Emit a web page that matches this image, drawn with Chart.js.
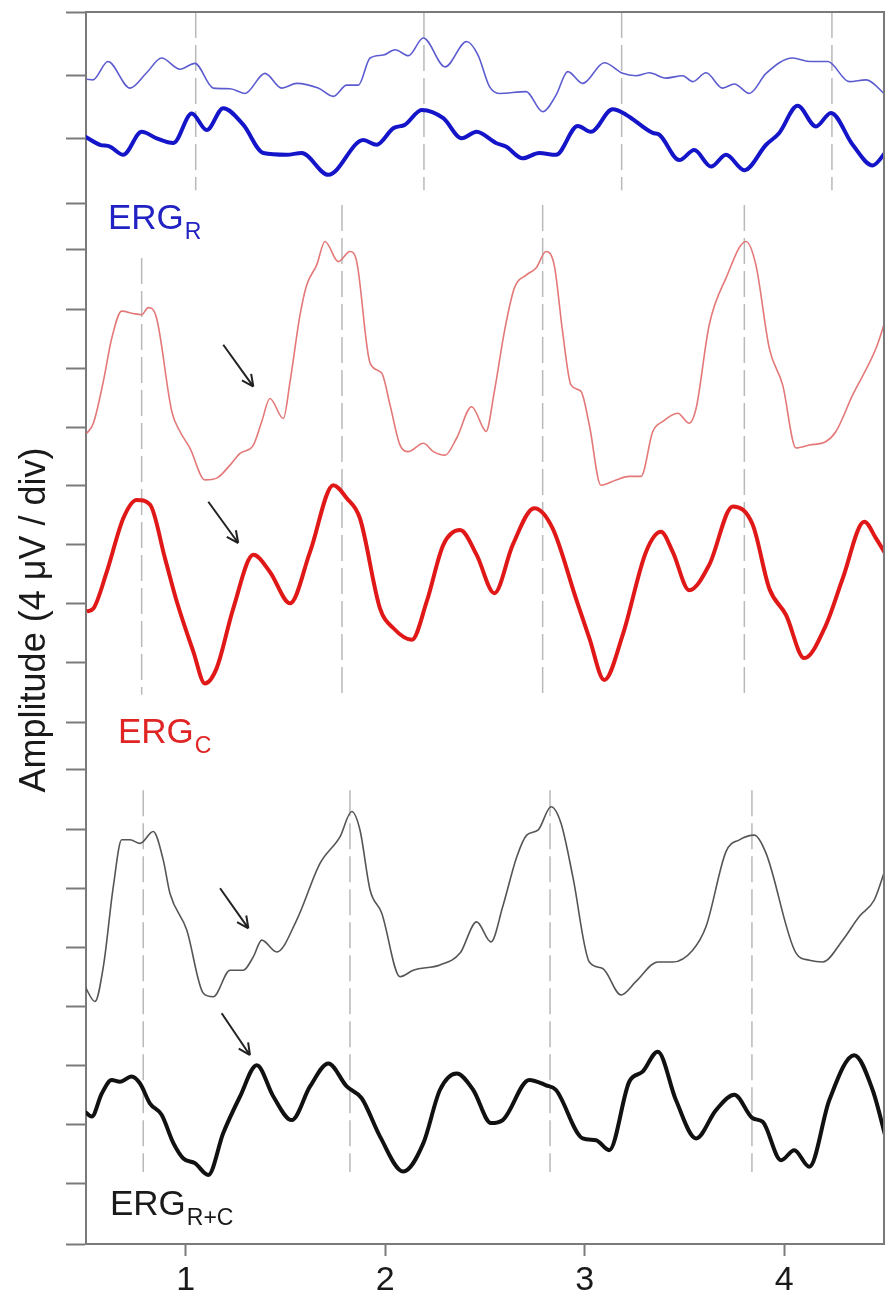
<!DOCTYPE html>
<html>
<head>
<meta charset="utf-8">
<title>ERG traces</title>
<script src="https://cdn.jsdelivr.net/npm/chart.js@4.4.1/dist/chart.umd.min.js"></script>
<style>
  html, body { margin: 0; padding: 0; background: #fff; }
</style>
</head>
<body>
<canvas id="erg" width="886" height="1301"></canvas>
<script>
/* ---------------------------------------------------------------
   data: time (x) and amplitude in divisions (y)
   --------------------------------------------------------------- */
const xTicks = [1, 2, 3, 4];
const yTicks = [0, 1.02, 2.02, 3.03, 4.03, 5.02, 6.02, 7.03, 8.05, 8.83, 9.85, 10.86,
  11.85, 12.85, 13.83, 14.83, 15.83, 16.86, 17.64, 18.73, 19.80, 20.88];

// ERG_R, thin trace
const rThinX = [0.504, 0.535, 0.610, 0.721, 0.804, 0.879, 0.971, 1.046, 1.138, 1.222, 1.297, 1.397,
  1.481, 1.556, 1.664, 1.740, 1.807, 1.865, 1.924, 1.990, 2.049, 2.116, 2.191, 2.300, 2.408, 2.465,
  2.522, 2.572, 2.706, 2.789, 2.856, 2.915, 2.990, 3.098, 3.190, 3.257, 3.324, 3.407, 3.491, 3.541,
  3.608, 3.691, 3.750, 3.825, 3.909, 4.042, 4.126, 4.218, 4.326, 4.410, 4.510];
const rThinY = [19.74, 19.73, 20.04, 19.59, 19.85, 20.10, 19.91, 20.01, 19.59, 19.58, 19.50, 19.84,
  19.59, 19.67, 19.59, 19.45, 19.64, 19.64, 20.10, 20.15, 20.24, 20.14, 20.44, 19.95, 20.38, 20.15,
  19.62, 19.50, 19.53, 19.19, 19.47, 19.87, 19.67, 20.02, 19.84, 19.80, 19.85, 19.76, 19.80, 19.70,
  19.85, 19.59, 19.66, 19.50, 19.84, 20.10, 20.04, 20.04, 19.70, 19.73, 19.47];

// ERG_R, thick trace
const rThickX = [0.495, 0.570, 0.620, 0.687, 0.779, 0.854, 0.938, 1.030, 1.105, 1.188, 1.288, 1.389,
  1.506, 1.581, 1.715, 1.890, 1.957, 2.040, 2.099, 2.183, 2.291, 2.383, 2.458, 2.555, 2.605, 2.689,
  2.772, 2.856, 2.965, 3.031, 3.140, 3.207, 3.341, 3.374, 3.474, 3.549, 3.633, 3.708, 3.800, 3.909,
  3.975, 4.067, 4.159, 4.234, 4.343, 4.443, 4.510];
const rThickY = [18.77, 18.63, 18.60, 18.46, 18.85, 18.74, 18.66, 19.16, 18.88, 19.25, 18.97, 18.49,
  18.46, 18.49, 18.12, 18.71, 18.63, 18.91, 18.97, 19.22, 19.08, 18.74, 18.85, 18.66, 18.60, 18.40,
  18.49, 18.46, 18.95, 18.85, 19.23, 19.14, 18.83, 18.80, 18.37, 18.54, 18.26, 18.46, 18.20, 18.63,
  18.83, 19.29, 18.94, 19.17, 18.63, 18.28, 18.51];

// ERG_C, thin trace
const cThinX = [0.504, 0.537, 0.587, 0.629, 0.679, 0.737, 0.779, 0.812, 0.854, 0.930, 0.971, 1.021,
  1.096, 1.155, 1.222, 1.272, 1.339, 1.381, 1.422, 1.489, 1.523, 1.573, 1.606, 1.656, 1.698, 1.765,
  1.823, 1.857, 1.924, 1.982, 2.024, 2.074, 2.116, 2.191, 2.241, 2.300, 2.358, 2.433, 2.491, 2.505,
  2.547, 2.597, 2.647, 2.706, 2.756, 2.806, 2.847, 2.889, 2.931, 2.981, 3.023, 3.081, 3.157, 3.223,
  3.282, 3.341, 3.391, 3.466, 3.524, 3.558, 3.624, 3.708, 3.808, 3.858, 3.925, 3.992, 4.059, 4.126,
  4.209, 4.259, 4.343, 4.460, 4.510];
const cThinY = [13.74, 13.91, 14.62, 15.35, 15.81, 15.77, 15.75, 15.87, 15.69, 14.11, 13.77, 13.49,
  12.95, 12.98, 13.20, 13.40, 13.54, 13.94, 14.33, 13.99, 14.62, 15.75, 16.25, 16.59, 16.99, 16.65,
  16.82, 16.65, 14.93, 14.76, 14.22, 13.54, 13.43, 13.57, 13.43, 13.37, 13.66, 14.19, 13.83, 13.77,
  14.45, 15.46, 16.20, 16.42, 16.54, 16.82, 16.59, 15.46, 14.56, 14.45, 13.88, 12.86, 12.95, 13.01,
  13.01, 13.77, 13.94, 14.08, 13.91, 14.16, 15.58, 16.37, 16.99, 16.59, 15.18, 14.56, 13.49, 13.54,
  13.60, 13.77, 14.39, 15.18, 15.69];

// ERG_C, thick trace
const cThickX = [0.504, 0.537, 0.604, 0.687, 0.754, 0.821, 0.896, 0.955, 1.038, 1.096, 1.155, 1.238,
  1.339, 1.422, 1.523, 1.623, 1.740, 1.807, 1.873, 1.974, 2.040, 2.133, 2.208, 2.291, 2.375, 2.458,
  2.547, 2.639, 2.747, 2.839, 2.956, 3.023, 3.098, 3.190, 3.307, 3.382, 3.441, 3.524, 3.624, 3.742,
  3.842, 3.925, 4.009, 4.100, 4.209, 4.293, 4.401, 4.460, 4.510];
const cThickY = [10.72, 10.77, 11.39, 12.30, 12.61, 12.53, 11.62, 10.89, 10.04, 9.50, 9.76, 10.77,
  11.68, 11.39, 10.86, 11.73, 12.86, 12.64, 12.30, 10.77, 10.44, 10.24, 10.89, 11.85, 12.10, 11.68,
  11.03, 11.85, 12.47, 12.13, 10.94, 10.27, 9.56, 10.32, 11.73, 12.07, 11.73, 11.08, 11.51, 12.50,
  12.19, 11.11, 10.66, 9.93, 10.49, 11.28, 12.24, 11.96, 11.68];

// ERG_R+C, thin trace
const rcThinX = [0.495, 0.545, 0.587, 0.637, 0.679, 0.721, 0.771, 0.837, 0.887, 0.921, 1.005, 1.088,
  1.138, 1.222, 1.288, 1.339, 1.381, 1.456, 1.556, 1.673, 1.773, 1.832, 1.873, 1.924, 1.982, 2.074,
  2.141, 2.274, 2.375, 2.458, 2.530, 2.589, 2.659, 2.709, 2.767, 2.831, 2.881, 2.940, 3.023, 3.090,
  3.182, 3.257, 3.366, 3.441, 3.541, 3.608, 3.708, 3.775, 3.850, 3.909, 4.059, 4.126, 4.193, 4.293,
  4.376, 4.451, 4.510];
const rcThinY = [4.36, 4.11, 4.70, 6.06, 6.85, 6.85, 6.79, 6.99, 6.51, 5.94, 5.32, 4.25,
  4.19, 4.64, 4.64, 4.87, 5.15, 4.95, 5.49, 6.45, 6.90, 7.33, 7.02, 6.00, 5.61, 4.53,
  4.64, 4.73, 4.93, 5.46, 5.12, 5.72, 6.56, 6.93, 7.02, 7.41, 7.13, 6.23, 4.78, 4.67,
  4.22, 4.45, 4.78, 4.78, 4.98, 5.38, 6.65, 6.85, 6.93, 6.62, 4.93, 4.81, 4.78, 5.15,
  5.55, 5.83, 6.39];

// ERG_R+C, thick trace
const rcThickX = [0.495, 0.529, 0.579, 0.629, 0.670, 0.729, 0.771, 0.821, 0.879, 0.938, 0.988, 1.046,
  1.113, 1.188, 1.272, 1.356, 1.439, 1.531, 1.623, 1.715, 1.807, 1.882, 1.974, 2.090, 2.191, 2.274,
  2.358, 2.441, 2.530, 2.589, 2.722, 2.806, 2.856, 2.990, 3.056, 3.123, 3.223, 3.290, 3.366, 3.457,
  3.558, 3.658, 3.750, 3.842, 3.892, 3.984, 4.050, 4.126, 4.226, 4.351, 4.443, 4.510];
const rcThickY = [2.24, 2.16, 2.55, 2.78, 2.75, 2.84, 2.72, 2.38, 2.19, 1.71, 1.45, 1.37,
  1.17, 1.88, 2.50, 3.03, 2.50, 2.10, 2.67, 3.06, 2.67, 2.47, 1.82, 1.23, 1.71, 2.61,
  2.89, 2.61, 2.05, 2.10, 2.78, 2.69, 2.61, 1.79, 1.76, 1.59, 2.75, 2.92, 3.26, 2.44,
  1.79, 2.27, 2.53, 2.13, 2.07, 1.42, 1.59, 1.31, 2.44, 3.20, 2.61, 1.79];

// dashed guides: x position, top and bottom of each guide
const guideRX = [1.050, 2.194, 3.185, 4.239];
const guideRTop = [20.88, 20.88, 20.88, 20.88];
const guideRBottom = [17.86, 17.86, 17.86, 17.86];
const guideCX = [0.779, 1.783, 2.789, 3.800];
const guideCTop = [16.71, 17.61, 17.61, 17.61];
const guideCBottom = [9.31, 9.31, 9.31, 9.31];
const guideRCX = [0.787, 1.823, 2.826, 3.838];
const guideRCTop = [7.69, 7.69, 7.69, 7.69];
const guideRCBottom = [1.22, 1.22, 1.22, 1.22];

// arrows: tail (x0, y0) to head (x1, y1)
const arrowX0 = [1.188, 1.113, 1.172, 1.180];
const arrowY0 = [15.24, 12.58, 6.03, 3.91];
const arrowX1 = [1.339, 1.263, 1.314, 1.322];
const arrowY1 = [14.53, 11.88, 5.35, 3.20];

/* ---------------------------------------------------------------
   helpers
   --------------------------------------------------------------- */
const FONT = '"Liberation Sans", Arial, Helvetica, sans-serif';
const pts = (xs, ys) => xs.map((x, i) => ({ x, y: ys[i] }));

const trace = (xs, ys, color, width) => ({
  data: pts(xs, ys),
  borderColor: color,
  borderWidth: width,
  pointRadius: 0,
  cubicInterpolationMode: 'monotone',
  order: 0
});

const guides = (xs, tops, bottoms) => xs.map((x, i) => ({
  data: [{ x, y: tops[i] }, { x, y: bottoms[i] }],
  borderColor: '#b9b9b9',
  borderWidth: 1.5,
  borderDash: [26, 7],
  pointRadius: 0,
  order: 5
}));

// labels with a subscript, anchored in data units
const labels = [
  { main: 'ERG', sub: 'R', x: 0.610, y: 17.20, color: '#2222c4' },
  { main: 'ERG', sub: 'C', x: 0.660, y: 8.49, color: '#e02424' },
  { main: 'ERG', sub: 'R+C', x: 0.620, y: 0.49, color: '#1a1a1a' }
];

const decor = {
  id: 'decor',
  afterDatasetsDraw(chart) {
    const { ctx, chartArea: a, scales: { x, y } } = chart;
    ctx.save();

    // box: top and right edges
    ctx.strokeStyle = '#7a7a7a';
    ctx.lineWidth = 2;
    ctx.beginPath();
    ctx.moveTo(a.left, a.top);
    ctx.lineTo(a.right, a.top);
    ctx.lineTo(a.right, a.bottom);
    ctx.stroke();

    // arrows
    ctx.strokeStyle = '#222';
    ctx.lineWidth = 2;
    arrowX0.forEach((_, i) => {
      const x0 = x.getPixelForValue(arrowX0[i]), y0 = y.getPixelForValue(arrowY0[i]);
      const x1 = x.getPixelForValue(arrowX1[i]), y1 = y.getPixelForValue(arrowY1[i]);
      const ang = Math.atan2(y1 - y0, x1 - x0);
      ctx.beginPath();
      ctx.moveTo(x0, y0);
      ctx.lineTo(x1, y1);
      [-0.45, 0.45].forEach(d => {
        ctx.moveTo(x1, y1);
        ctx.lineTo(x1 - 13 * Math.cos(ang + d), y1 - 13 * Math.sin(ang + d));
      });
      ctx.stroke();
    });

    // trace labels
    ctx.textBaseline = 'alphabetic';
    ctx.textAlign = 'left';
    labels.forEach(l => {
      const px = x.getPixelForValue(l.x), py = y.getPixelForValue(l.y);
      ctx.fillStyle = l.color;
      ctx.font = `35px ${FONT}`;
      ctx.fillText(l.main, px, py);
      const w = ctx.measureText(l.main).width;
      ctx.font = `23px ${FONT}`;
      ctx.fillText(l.sub, px + w + 1, py + 10);
    });

    // y axis title
    ctx.translate(45, 620);
    ctx.rotate(-Math.PI / 2);
    ctx.textAlign = 'center';
    ctx.fillStyle = '#1a1a1a';
    ctx.font = `36px ${FONT}`;
    ctx.fillText('Amplitude (4 \u03bcV / div)', 0, 0);
    ctx.restore();
  }
};

/* ---------------------------------------------------------------
   chart
   --------------------------------------------------------------- */
new Chart(document.getElementById('erg'), {
  type: 'line',
  data: {
    datasets: [
      trace(rThinX, rThinY, '#5c5cd0', 1.6),
      trace(rThickX, rThickY, '#1414c8', 4),
      trace(cThinX, cThinY, '#e47878', 1.6),
      trace(cThickX, cThickY, '#e01818', 4),
      trace(rcThinX, rcThinY, '#555555', 1.6),
      trace(rcThickX, rcThickY, '#111111', 4),
      ...guides(guideRX, guideRTop, guideRBottom),
      ...guides(guideCX, guideCTop, guideCBottom),
      ...guides(guideRCX, guideRCTop, guideRCBottom)
    ]
  },
  options: {
    responsive: false,
    animation: false,
    events: [],
    layout: { padding: { left: 0, top: 12, right: 2, bottom: 0 } },
    plugins: { legend: { display: false }, tooltip: { enabled: false } },
    scales: {
      x: {
        type: 'linear',
        min: 0.5,
        max: 4.5,
        afterBuildTicks: s => { s.ticks = xTicks.map(v => ({ value: v })); },
        afterFit: s => { s.height = 57; },
        ticks: { color: '#1a1a1a', font: { family: FONT, size: 34 }, padding: 4, maxRotation: 0 },
        grid: { drawOnChartArea: false, tickLength: 12, tickColor: '#7a7a7a', tickWidth: 2 },
        border: { color: '#7a7a7a', width: 2 }
      },
      y: {
        type: 'linear',
        min: 0,
        max: 20.88,
        afterBuildTicks: s => { s.ticks = yTicks.map(v => ({ value: v })); },
        afterFit: s => { s.width = 86; },
        ticks: { display: false },
        grid: { drawOnChartArea: false, tickLength: 20, tickColor: '#7a7a7a', tickWidth: 2 },
        border: { color: '#7a7a7a', width: 2 }
      }
    }
  },
  plugins: [decor]
});
</script>
</body>
</html>
